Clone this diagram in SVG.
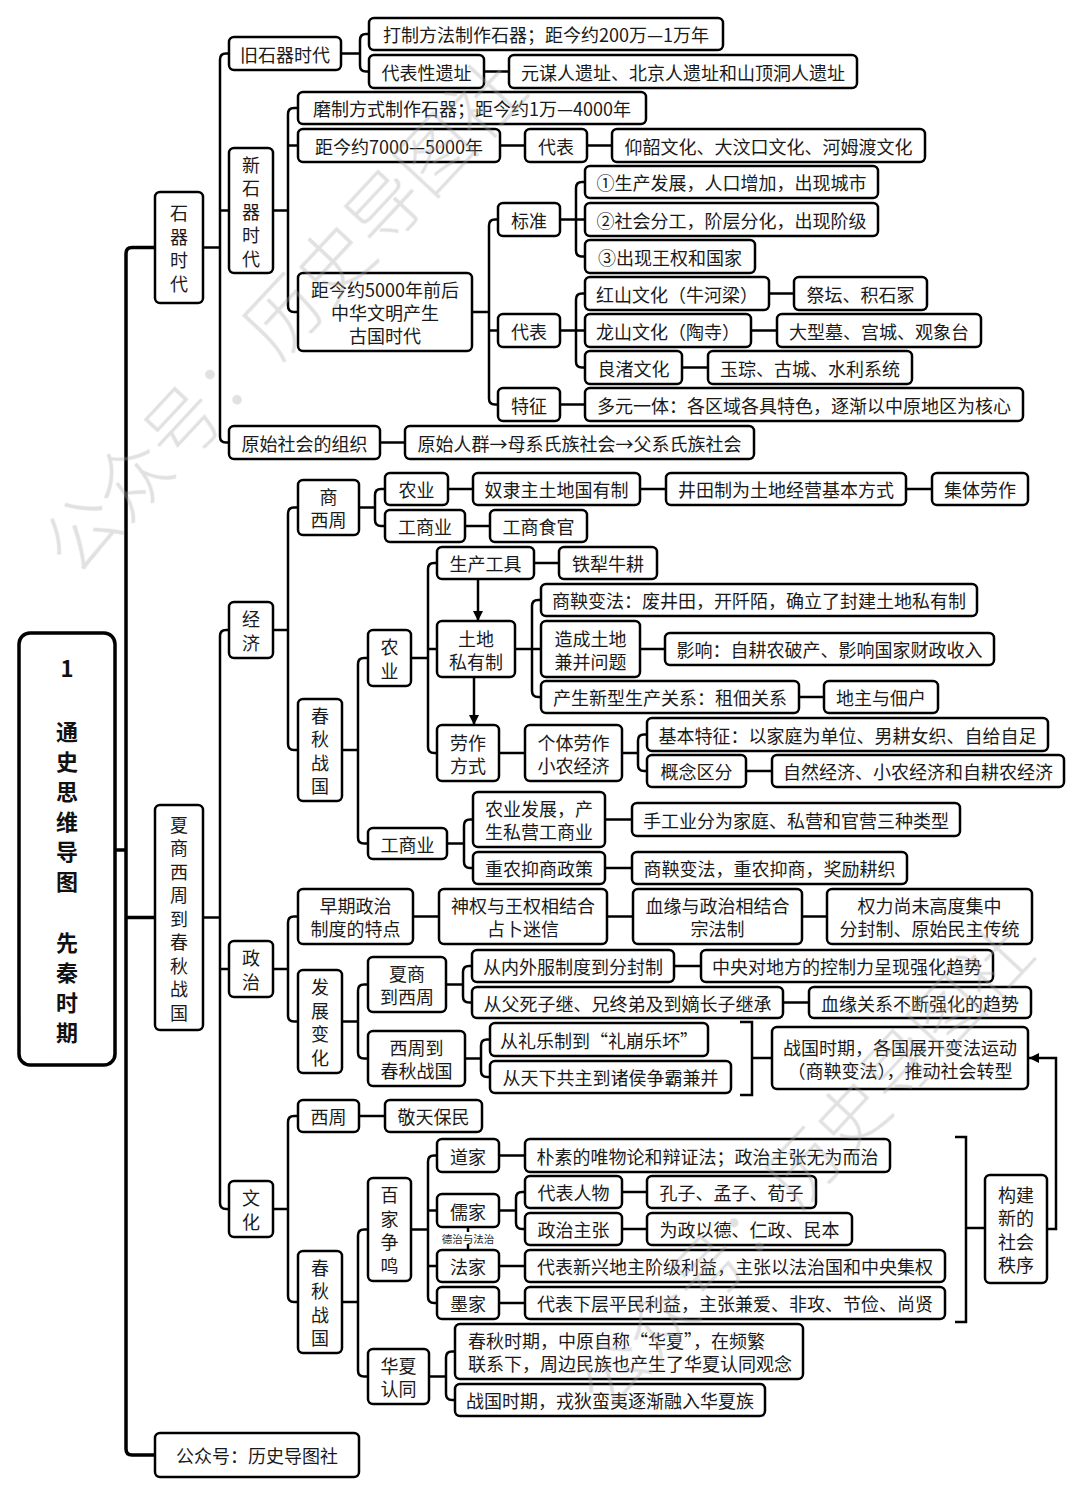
<svg xmlns="http://www.w3.org/2000/svg" width="1080" height="1496" viewBox="0 0 1080 1496">
<defs>
<style>
rect.b{fill:#fff;stroke:#000;stroke-width:2.5px;rx:5px;ry:5px}
rect.r{fill:#fff;stroke:#000;stroke-width:3.5px;rx:11px;ry:11px}
.t{font-family:"Noto Sans CJK SC","Microsoft YaHei",sans-serif;font-size:18px;fill:#1a1a1a;text-anchor:middle;dominant-baseline:central}
.tl{font-family:"Noto Sans CJK SC","Microsoft YaHei",sans-serif;font-size:18px;fill:#1a1a1a;text-anchor:start;dominant-baseline:central}
.rt{font-family:"Noto Sans CJK SC","Microsoft YaHei",sans-serif;font-size:22px;font-weight:bold;fill:#111;text-anchor:middle;dominant-baseline:central}
.sm{font-family:"Noto Sans CJK SC","Microsoft YaHei",sans-serif;font-size:10.5px;fill:#222;text-anchor:middle;dominant-baseline:central}
.c{fill:none;stroke:#000;stroke-width:2.5px}
.ct{fill:none;stroke:#000;stroke-width:3.5px}
.wm{font-family:"Noto Sans CJK SC",sans-serif;font-weight:300;fill:#aaa;dominant-baseline:central}
</style>
<marker id="ah" markerWidth="12" markerHeight="12" refX="10" refY="6" orient="auto" markerUnits="userSpaceOnUse"><path d="M0,1 L10,6 L0,11 Z" fill="#000"/></marker>
</defs>
<rect width="1080" height="1496" fill="#fff"/>

<g id="connectors">
<path class="ct" d="M115,850 H126"/>
<path class="ct" d="M155,247.5 H132 Q126,247.5 126,253.5 V1449 Q126,1455 132,1455 H155 M126,917.5 H155"/>
<path class="c" d="M203,247.5 H220 M229,53.5 H226 Q220,53.5 220,59.5 V436.5 Q220,442.5 226,442.5 H229 M220,210.5 H229"/>
<path class="c" d="M341,53.5 H360 M369,34 H366 Q360,34 360,40 V65.5 Q360,71.5 366,71.5 H369 M484,71.5 H509"/>
<path class="c" d="M273,210.5 H288 M298,108 H294 Q288,108 288,114 V306 Q288,312 294,312 H298 M288,145.5 H298 M500,145.5 H525 M587,145.5 H612"/>
<path class="c" d="M472,312 H489 M498,219.5 H495 Q489,219.5 489,225.5 V398.5 Q489,404.5 495,404.5 H498 M489,330.5 H498"/>
<path class="c" d="M560,219.5 H576 M585,182 H582 Q576,182 576,188 V250.5 Q576,256.5 582,256.5 H585 M576,219.5 H585"/>
<path class="c" d="M560,330.5 H576 M585,293.5 H582 Q576,293.5 576,299.5 V361.5 Q576,367.5 582,367.5 H585 M576,330.5 H585 M769,293.5 H794 M751,330.5 H777 M682,367.5 H708 M560,404.5 H585 M380,442.5 H405"/>
<path class="c" d="M203,917.5 H220 M229,630 H226 Q220,630 220,636 V1203 Q220,1209 226,1209 H229 M220,969 H229"/>
<path class="c" d="M273,630 H288 M298,507.5 H294 Q288,507.5 288,513.5 V744 Q288,750 294,750 H298"/>
<path class="c" d="M359,507.5 H375 M385,489 H381 Q375,489 375,495 V520 Q375,526 381,526 H385 M448,489 H473 M640,489 H666 M906,489 H932 M465,526 H490"/>
<path class="c" d="M342,750 H358 M368,658 H364 Q358,658 358,664 V837.5 Q358,843.5 364,843.5 H368"/>
<path class="c" d="M411,658 H428 M437,563 H434 Q428,563 428,569 V747 Q428,753 434,753 H437 M428,649 H437 M534,563 H559"/>
<path class="c" d="M478,579 V621" marker-end="url(#ah)"/>
<path class="c" d="M474,677 V725" marker-end="url(#ah)"/>
<path class="c" d="M515,649 H532 M541,600 H538 Q532,600 532,606 V691 Q532,697 538,697 H541 M532,649 H541 M640,649 H665 M799,697 H824 M499,753 H525"/>
<path class="c" d="M622,753 H638 M647,734.5 H644 Q638,734.5 638,740.5 V765 Q638,771 644,771 H647 M746,771 H772"/>
<path class="c" d="M447,843.5 H464 M473,819.5 H470 Q464,819.5 464,825.5 V862 Q464,868 470,868 H473 M605,819.5 H632 M605,868 H632"/>
<path class="c" d="M273,969 H288 M298,916.5 H294 Q288,916.5 288,922.5 V1015.5 Q288,1021.5 294,1021.5 H298 M413,916.5 H439 M607,916.5 H633 M802,916.5 H827"/>
<path class="c" d="M342,1021.5 H358 M368,984.5 H364 Q358,984.5 358,990.5 V1052.5 Q358,1058.5 364,1058.5 H368"/>
<path class="c" d="M446,984.5 H463 M472,966 H469 Q463,966 463,972 V996.5 Q463,1002.5 469,1002.5 H472 M674,966 H701 M783,1002.5 H809"/>
<path class="c" d="M465,1058.5 H481 M490,1039.5 H487 Q481,1039.5 481,1045.5 V1071 Q481,1077 487,1077 H490"/>
<path class="c" d="M740,1022 H752 V1095 H740 M752,1058 H772"/>
<path class="c" d="M1047,1229 H1056 V1058 H1029" marker-end="url(#ah)"/>
<path class="c" d="M273,1209 H288 M298,1116 H294 Q288,1116 288,1122 V1296 Q288,1302 294,1302 H298 M359,1116 H385"/>
<path class="c" d="M342,1302 H358 M368,1229.5 H364 Q358,1229.5 358,1235.5 V1370.5 Q358,1376.5 364,1376.5 H368"/>
<path class="c" d="M411,1229.5 H428 M437,1155.5 H434 Q428,1155.5 428,1161.5 V1297 Q428,1303 434,1303 H437 M428,1210.5 H437 M428,1266 H437 M499,1155.5 H525 M499,1266 H525 M499,1303 H525"/>
<path class="c" d="M499,1210.5 H516 M525,1192 H522 Q516,1192 516,1198 V1223 Q516,1229 522,1229 H525 M622,1192 H647 M622,1229 H647"/>
<path class="c" d="M468,1227 V1232 M468,1244 V1250"/>
<path class="c" d="M955,1137 H966 V1322 H955 M966,1228 H985"/>
<path class="c" d="M429,1376.5 H446 M455,1351.5 H452 Q446,1351.5 446,1357.5 V1394 Q446,1400 452,1400 H455"/>
</g>

<g id="n-root"><rect class="r" x="19" y="633" width="96" height="432"/>
<text class="rt"><tspan x="67" y="667">1</tspan><tspan x="67" y="730">通</tspan><tspan x="67" y="760">史</tspan><tspan x="67" y="790">思</tspan><tspan x="67" y="820">维</tspan><tspan x="67" y="850">导</tspan><tspan x="67" y="880">图</tspan><tspan x="67" y="941">先</tspan><tspan x="67" y="971">秦</tspan><tspan x="67" y="1001">时</tspan><tspan x="67" y="1031">期</tspan></text></g>

<g id="n-shiqi"><rect class="b" x="155" y="192" width="48" height="111"/>
<text class="t"><tspan x="179" y="212.25">石</tspan><tspan x="179" y="235.75">器</tspan><tspan x="179" y="259.25">时</tspan><tspan x="179" y="282.75">代</tspan></text></g>
<g id="n-xiashang"><rect class="b" x="155" y="805" width="48" height="225"/>
<text class="t"><tspan x="179" y="823.5">夏</tspan><tspan x="179" y="847">商</tspan><tspan x="179" y="870.5">西</tspan><tspan x="179" y="894">周</tspan><tspan x="179" y="917.5">到</tspan><tspan x="179" y="941">春</tspan><tspan x="179" y="964.5">秋</tspan><tspan x="179" y="988">战</tspan><tspan x="179" y="1011.5">国</tspan></text></g>
<g id="n-gzh"><rect class="b" x="155" y="1433" width="204" height="44"/><text class="t" x="257" y="1455">公众号：历史导图社</text></g>

<g id="n-jiushiqi"><rect class="b" x="229" y="37" width="112" height="33"/><text class="t" x="285" y="53.5">旧石器时代</text></g>
<g id="n-dazhi"><rect class="b" x="369" y="18" width="354" height="32"/><text class="t" x="546" y="34">打制方法制作石器；距今约200万—1万年</text></g>
<g id="n-daibiaoyz"><rect class="b" x="369" y="55" width="115" height="33"/><text class="t" x="426.5" y="71.5">代表性遗址</text></g>
<g id="n-yuanmou"><rect class="b" x="509" y="55" width="348" height="33"/><text class="t" x="683" y="71.5">元谋人遗址、北京人遗址和山顶洞人遗址</text></g>

<g id="n-xinshiqi"><rect class="b" x="229" y="148" width="44" height="125"/>
<text class="t"><tspan x="251" y="163.5">新</tspan><tspan x="251" y="187">石</tspan><tspan x="251" y="210.5">器</tspan><tspan x="251" y="234">时</tspan><tspan x="251" y="257.5">代</tspan></text></g>
<g id="n-mozhi"><rect class="b" x="298" y="92" width="348" height="32"/><text class="t" x="472" y="108">磨制方式制作石器；距今约1万—4000年</text></g>
<g id="n-7000"><rect class="b" x="298" y="129" width="202" height="33"/><text class="t" x="399" y="145.5">距今约7000—5000年</text></g>
<g id="n-daibiao1"><rect class="b" x="525" y="129" width="62" height="33"/><text class="t" x="556" y="145.5">代表</text></g>
<g id="n-yangshao"><rect class="b" x="612" y="129" width="313" height="33"/><text class="t" x="768.5" y="145.5">仰韶文化、大汶口文化、河姆渡文化</text></g>
<g id="n-5000"><rect class="b" x="298" y="273" width="174" height="78"/>
<text class="t"><tspan x="385" y="289">距今约5000年前后</tspan><tspan x="385" y="312">中华文明产生</tspan><tspan x="385" y="335">古国时代</tspan></text></g>

<g id="n-biaozhun"><rect class="b" x="498" y="203" width="62" height="33"/><text class="t" x="529" y="219.5">标准</text></g>
<g id="n-b1"><rect class="b" x="585" y="166" width="293" height="32"/><text class="t" x="731.5" y="182">①生产发展，人口增加，出现城市</text></g>
<g id="n-b2"><rect class="b" x="585" y="203" width="293" height="33"/><text class="t" x="731.5" y="219.5">②社会分工，阶层分化，出现阶级</text></g>
<g id="n-b3"><rect class="b" x="585" y="240" width="170" height="33"/><text class="t" x="670" y="256.5">③出现王权和国家</text></g>

<g id="n-daibiao2"><rect class="b" x="498" y="314" width="62" height="33"/><text class="t" x="529" y="330.5">代表</text></g>
<g id="n-hongshan"><rect class="b" x="585" y="277" width="184" height="33"/><text class="t" x="677" y="293.5">红山文化（牛河梁）</text></g>
<g id="n-jitan"><rect class="b" x="794" y="277" width="133" height="33"/><text class="t" x="860.5" y="293.5">祭坛、积石冢</text></g>
<g id="n-longshan"><rect class="b" x="585" y="314" width="166" height="33"/><text class="t" x="668" y="330.5">龙山文化（陶寺）</text></g>
<g id="n-daxingmu"><rect class="b" x="777" y="314" width="204" height="33"/><text class="t" x="879" y="330.5">大型墓、宫城、观象台</text></g>
<g id="n-liangzhu"><rect class="b" x="585" y="351" width="97" height="33"/><text class="t" x="633.5" y="367.5">良渚文化</text></g>
<g id="n-yucong"><rect class="b" x="708" y="351" width="204" height="33"/><text class="t" x="810" y="367.5">玉琮、古城、水利系统</text></g>
<g id="n-tezheng"><rect class="b" x="498" y="388" width="62" height="33"/><text class="t" x="529" y="404.5">特征</text></g>
<g id="n-duoyuan"><rect class="b" x="585" y="388" width="438" height="33"/><text class="t" x="804" y="404.5">多元一体：各区域各具特色，逐渐以中原地区为核心</text></g>

<g id="n-yuanshi"><rect class="b" x="229" y="426" width="151" height="33"/><text class="t" x="304.5" y="442.5">原始社会的组织</text></g>
<g id="n-renqun"><rect class="b" x="405" y="426" width="349" height="33"/><text class="t" x="579.5" y="442.5">原始人群→母系氏族社会→父系氏族社会</text></g>

<g id="n-jingji"><rect class="b" x="229" y="602" width="44" height="56"/><text class="t"><tspan x="251" y="618.25">经</tspan><tspan x="251" y="641.75">济</tspan></text></g>
<g id="n-zhengzhi"><rect class="b" x="229" y="941" width="44" height="56"/><text class="t"><tspan x="251" y="957.25">政</tspan><tspan x="251" y="980.75">治</tspan></text></g>
<g id="n-wenhua"><rect class="b" x="229" y="1181" width="44" height="56"/><text class="t"><tspan x="251" y="1197.25">文</tspan><tspan x="251" y="1220.75">化</tspan></text></g>

<g id="n-shangxizhou"><rect class="b" x="298" y="480" width="61" height="55"/><text class="t"><tspan x="328.5" y="496">商</tspan><tspan x="328.5" y="519">西周</tspan></text></g>
<g id="n-nongye1"><rect class="b" x="385" y="473" width="63" height="32"/><text class="t" x="416.5" y="489">农业</text></g>
<g id="n-nuli"><rect class="b" x="473" y="473" width="167" height="32"/><text class="t" x="556.5" y="489">奴隶主土地国有制</text></g>
<g id="n-jingtian"><rect class="b" x="666" y="473" width="240" height="32"/><text class="t" x="786" y="489">井田制为土地经营基本方式</text></g>
<g id="n-jiti"><rect class="b" x="932" y="473" width="96" height="32"/><text class="t" x="980" y="489">集体劳作</text></g>
<g id="n-gongshang1"><rect class="b" x="385" y="510" width="80" height="32"/><text class="t" x="425" y="526">工商业</text></g>
<g id="n-gongshangshiguan"><rect class="b" x="490" y="510" width="97" height="32"/><text class="t" x="538.5" y="526">工商食官</text></g>

<g id="n-chunqiu1"><rect class="b" x="298" y="699" width="44" height="102"/><text class="t"><tspan x="320" y="714.75">春</tspan><tspan x="320" y="738.25">秋</tspan><tspan x="320" y="761.75">战</tspan><tspan x="320" y="785.25">国</tspan></text></g>
<g id="n-nongye2"><rect class="b" x="368" y="630" width="43" height="56"/><text class="t"><tspan x="389.5" y="646.25">农</tspan><tspan x="389.5" y="669.75">业</tspan></text></g>
<g id="n-gongju"><rect class="b" x="437" y="547" width="97" height="32"/><text class="t" x="485.5" y="563">生产工具</text></g>
<g id="n-tieli"><rect class="b" x="559" y="547" width="98" height="32"/><text class="t" x="608" y="563">铁犁牛耕</text></g>
<g id="n-tudi"><rect class="b" x="437" y="621" width="78" height="56"/><text class="t"><tspan x="476" y="637.5">土地</tspan><tspan x="476" y="660.5">私有制</tspan></text></g>
<g id="n-shangyang1"><rect class="b" x="541" y="584" width="436" height="32"/><text class="t" x="759" y="600">商鞅变法：废井田，开阡陌，确立了封建土地私有制</text></g>
<g id="n-jianbing"><rect class="b" x="541" y="621" width="99" height="56"/><text class="t"><tspan x="590.5" y="637.5">造成土地</tspan><tspan x="590.5" y="660.5">兼并问题</tspan></text></g>
<g id="n-yingxiang"><rect class="b" x="665" y="633" width="329" height="32"/><text class="t" x="829.5" y="649">影响：自耕农破产、影响国家财政收入</text></g>
<g id="n-zudian"><rect class="b" x="541" y="681" width="258" height="32"/><text class="t" x="670" y="697">产生新型生产关系：租佃关系</text></g>
<g id="n-dizhu"><rect class="b" x="824" y="681" width="114" height="32"/><text class="t" x="881" y="697">地主与佃户</text></g>
<g id="n-laozuo"><rect class="b" x="437" y="725" width="62" height="56"/><text class="t"><tspan x="468" y="741.5">劳作</tspan><tspan x="468" y="764.5">方式</tspan></text></g>
<g id="n-xiaonong"><rect class="b" x="525" y="725" width="97" height="56"/><text class="t"><tspan x="573.5" y="741.5">个体劳作</tspan><tspan x="573.5" y="764.5">小农经济</tspan></text></g>
<g id="n-jibentz"><rect class="b" x="647" y="718" width="401" height="33"/><text class="t" x="847.5" y="734.5">基本特征：以家庭为单位、男耕女织、自给自足</text></g>
<g id="n-gainian"><rect class="b" x="647" y="755" width="99" height="32"/><text class="t" x="696.5" y="771">概念区分</text></g>
<g id="n-ziran"><rect class="b" x="772" y="755" width="292" height="32"/><text class="t" x="918" y="771">自然经济、小农经济和自耕农经济</text></g>

<g id="n-gongshang2"><rect class="b" x="368" y="828" width="79" height="31"/><text class="t" x="407.5" y="843.5">工商业</text></g>
<g id="n-siying"><rect class="b" x="473" y="792" width="132" height="55"/><text class="t"><tspan x="539" y="808">农业发展，产</tspan><tspan x="539" y="831">生私营工商业</tspan></text></g>
<g id="n-shougong"><rect class="b" x="632" y="803" width="328" height="33"/><text class="t" x="796" y="819.5">手工业分为家庭、私营和官营三种类型</text></g>
<g id="n-zhongnong"><rect class="b" x="473" y="852" width="132" height="32"/><text class="t" x="539" y="868">重农抑商政策</text></g>
<g id="n-shangyang2"><rect class="b" x="632" y="852" width="275" height="32"/><text class="t" x="769.5" y="868">商鞅变法，重农抑商，奖励耕织</text></g>

<g id="n-zaoqi"><rect class="b" x="298" y="889" width="115" height="55"/><text class="t"><tspan x="355.5" y="905">早期政治</tspan><tspan x="355.5" y="928">制度的特点</tspan></text></g>
<g id="n-shenquan"><rect class="b" x="439" y="889" width="168" height="55"/><text class="t"><tspan x="523" y="905">神权与王权相结合</tspan><tspan x="523" y="928">占卜迷信</tspan></text></g>
<g id="n-xueyuan"><rect class="b" x="633" y="889" width="169" height="55"/><text class="t"><tspan x="717.5" y="905">血缘与政治相结合</tspan><tspan x="717.5" y="928">宗法制</tspan></text></g>
<g id="n-quanli"><rect class="b" x="827" y="889" width="205" height="55"/><text class="t"><tspan x="929.5" y="905">权力尚未高度集中</tspan><tspan x="929.5" y="928">分封制、原始民主传统</tspan></text></g>
<g id="n-fazhan"><rect class="b" x="298" y="970" width="44" height="103"/><text class="t"><tspan x="320" y="986.25">发</tspan><tspan x="320" y="1009.75">展</tspan><tspan x="320" y="1033.25">变</tspan><tspan x="320" y="1056.75">化</tspan></text></g>
<g id="n-xiashangxz"><rect class="b" x="368" y="957" width="78" height="55"/><text class="t"><tspan x="407" y="973">夏商</tspan><tspan x="407" y="996">到西周</tspan></text></g>
<g id="n-neiwai"><rect class="b" x="472" y="950" width="202" height="32"/><text class="t" x="573" y="966">从内外服制度到分封制</text></g>
<g id="n-zhongyang"><rect class="b" x="701" y="950" width="292" height="32"/><text class="t" x="847" y="966">中央对地方的控制力呈现强化趋势</text></g>
<g id="n-fusi"><rect class="b" x="472" y="987" width="311" height="31"/><text class="t" x="627.5" y="1002.5">从父死子继、兄终弟及到嫡长子继承</text></g>
<g id="n-xueyuangx"><rect class="b" x="809" y="987" width="222" height="31"/><text class="t" x="920" y="1002.5">血缘关系不断强化的趋势</text></g>
<g id="n-xizhoucq"><rect class="b" x="368" y="1031" width="97" height="55"/><text class="t"><tspan x="416.5" y="1047">西周到</tspan><tspan x="416.5" y="1070">春秋战国</tspan></text></g>
<g id="n-liyue"><rect class="b" x="490" y="1023" width="218" height="33"/><text class="t" x="599" y="1039.5">从礼乐制到“礼崩乐坏”</text></g>
<g id="n-tianxia"><rect class="b" x="490" y="1061" width="241" height="32"/><text class="t" x="610.5" y="1077">从天下共主到诸侯争霸兼并</text></g>
<g id="n-zhanguo"><rect class="b" x="772" y="1027" width="256" height="62"/><text class="t"><tspan x="900" y="1046.5">战国时期，各国展开变法运动</tspan><tspan x="900" y="1069.5">（商鞅变法），推动社会转型</tspan></text></g>

<g id="n-xizhou"><rect class="b" x="298" y="1100" width="61" height="32"/><text class="t" x="328.5" y="1116">西周</text></g>
<g id="n-jingtian2"><rect class="b" x="385" y="1100" width="97" height="32"/><text class="t" x="433.5" y="1116">敬天保民</text></g>
<g id="n-chunqiu2"><rect class="b" x="298" y="1251" width="44" height="102"/><text class="t"><tspan x="320" y="1266.75">春</tspan><tspan x="320" y="1290.25">秋</tspan><tspan x="320" y="1313.75">战</tspan><tspan x="320" y="1337.25">国</tspan></text></g>
<g id="n-baijia"><rect class="b" x="368" y="1178" width="43" height="103"/><text class="t"><tspan x="389.5" y="1194.25">百</tspan><tspan x="389.5" y="1217.75">家</tspan><tspan x="389.5" y="1241.25">争</tspan><tspan x="389.5" y="1264.75">鸣</tspan></text></g>
<g id="n-daojia"><rect class="b" x="437" y="1139" width="62" height="33"/><text class="t" x="468" y="1155.5">道家</text></g>
<g id="n-pusu"><rect class="b" x="525" y="1139" width="365" height="33"/><text class="t" x="707.5" y="1155.5">朴素的唯物论和辩证法；政治主张无为而治</text></g>
<g id="n-rujia"><rect class="b" x="437" y="1194" width="62" height="33"/><text class="t" x="468" y="1210.5">儒家</text></g>
<g id="n-dezhi"><text class="sm" x="468" y="1238">德治与法治</text></g>
<g id="n-renwu"><rect class="b" x="525" y="1176" width="97" height="32"/><text class="t" x="573.5" y="1192">代表人物</text></g>
<g id="n-kongzi"><rect class="b" x="647" y="1176" width="169" height="32"/><text class="t" x="731.5" y="1192">孔子、孟子、荀子</text></g>
<g id="n-zhuzhang"><rect class="b" x="525" y="1213" width="97" height="32"/><text class="t" x="573.5" y="1229">政治主张</text></g>
<g id="n-weizheng"><rect class="b" x="647" y="1213" width="205" height="32"/><text class="t" x="749.5" y="1229">为政以德、仁政、民本</text></g>
<g id="n-fajia"><rect class="b" x="437" y="1250" width="62" height="32"/><text class="t" x="468" y="1266">法家</text></g>
<g id="n-xinxing"><rect class="b" x="525" y="1250" width="420" height="32"/><text class="t" x="735" y="1266">代表新兴地主阶级利益，主张以法治国和中央集权</text></g>
<g id="n-mojia"><rect class="b" x="437" y="1287" width="62" height="32"/><text class="t" x="468" y="1303">墨家</text></g>
<g id="n-xiaceng"><rect class="b" x="525" y="1287" width="420" height="32"/><text class="t" x="735" y="1303">代表下层平民利益，主张兼爱、非攻、节俭、尚贤</text></g>
<g id="n-goujian"><rect class="b" x="985" y="1175" width="62" height="108"/><text class="t"><tspan x="1016" y="1193.75">构建</tspan><tspan x="1016" y="1217.25">新的</tspan><tspan x="1016" y="1240.75">社会</tspan><tspan x="1016" y="1264.25">秩序</tspan></text></g>
<g id="n-huaxia"><rect class="b" x="368" y="1349" width="61" height="55"/><text class="t"><tspan x="398.5" y="1365">华夏</tspan><tspan x="398.5" y="1388">认同</tspan></text></g>
<g id="n-chunqiushiqi"><rect class="b" x="455" y="1324" width="348" height="55"/><text class="tl"><tspan x="468" y="1340">春秋时期，中原自称“华夏”，在频繁</tspan><tspan x="468" y="1363">联系下，周边民族也产生了华夏认同观念</tspan></text></g>
<g id="n-rongdi"><rect class="b" x="455" y="1384" width="310" height="32"/><text class="t" x="610" y="1400">战国时期，戎狄蛮夷逐渐融入华夏族</text></g>

<g id="watermark" opacity="0.35">
<text class="wm" font-size="74" transform="translate(52,556) rotate(-47)">公众号：历史导图社</text>
<text class="wm" font-size="70" transform="translate(585,1395) rotate(-47)">公众号：历史导图社</text>
</g>
</svg>
